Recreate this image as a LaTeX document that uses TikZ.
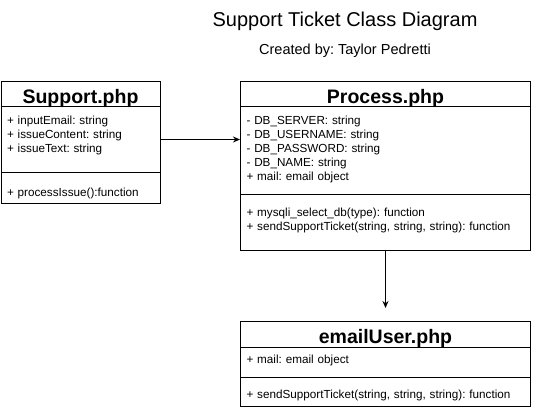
\documentclass[tikz,border=0pt]{standalone}
\usepackage{fontspec}
\setmainfont{Liberation Sans}
\usetikzlibrary{arrows.meta}
\frenchspacing

\begin{document}
\begin{tikzpicture}[x=1pt, y=-1pt, line width=1pt,
	classhead/.style={draw, anchor=north west, align=center, inner xsep=0pt, inner ysep=0pt, text height=22pt, font=\bfseries\fontsize{19.5}{20}\selectfont},
	classpart/.style={draw, anchor=north west, align=left, inner xsep=6pt, inner ysep=0pt, font=\fontsize{11.7}{14}\selectfont},
	arr/.style={-{Stealth[length=7pt, width=6pt]}}]
	\useasboundingbox (0, 0) rectangle (551, 410);

	\node[font=\fontsize{20}{22}\selectfont] (title) at (345, 21) {Support Ticket Class Diagram};
	\node[font=\fontsize{14.5}{16}\selectfont] (author) at (345, 51) {Created by: Taylor Pedretti};

	\node[classhead, text width=159pt, text depth=3pt] (supHead) at (0.5, 81) {Support.php};
	\node[classpart, text width=147pt, text height=18pt, text depth=48pt] (supAttr) at (0.5, 106) {+ inputEmail: string\\+ issueContent: string\\+ issueText: string};
	\node[classpart, text width=147pt, text height=24pt, text depth=7pt] (supMeth) at (0.5, 172) {+ processIssue():function};

	\node[classhead, text width=290pt, text depth=3pt] (procHead) at (240, 81) {Process.php};
	\node[classpart, text width=278pt, text height=18pt, text depth=70pt] (procAttr) at (240, 106) {- DB\_SERVER: string\\- DB\_USERNAME: string\\- DB\_PASSWORD: string\\- DB\_NAME: string\\+ mail: email object};
	\node[classpart, text width=278pt, text height=22pt, text depth=34pt] (procMeth) at (240, 194) {+ mysqli\_select\_db(type): function\\+ sendSupportTicket(string, string, string): function};

	\node[classhead, text width=290pt, text depth=4pt] (mailHead) at (240, 321) {emailUser.php};
	\node[classpart, text width=278pt, text height=16pt, text depth=14pt] (mailAttr) at (240, 347) {+ mail: email object};
	\node[classpart, text width=278pt, text height=21pt, text depth=8pt] (mailMeth) at (240, 377) {+ sendSupportTicket(string, string, string): function};

	\draw[arr] (supAttr.east) -- (supAttr.east -| procAttr.west);
	\draw[arr, shorten >=13pt] (procMeth.south) -- (mailHead.north);

\end{tikzpicture}
\end{document}
